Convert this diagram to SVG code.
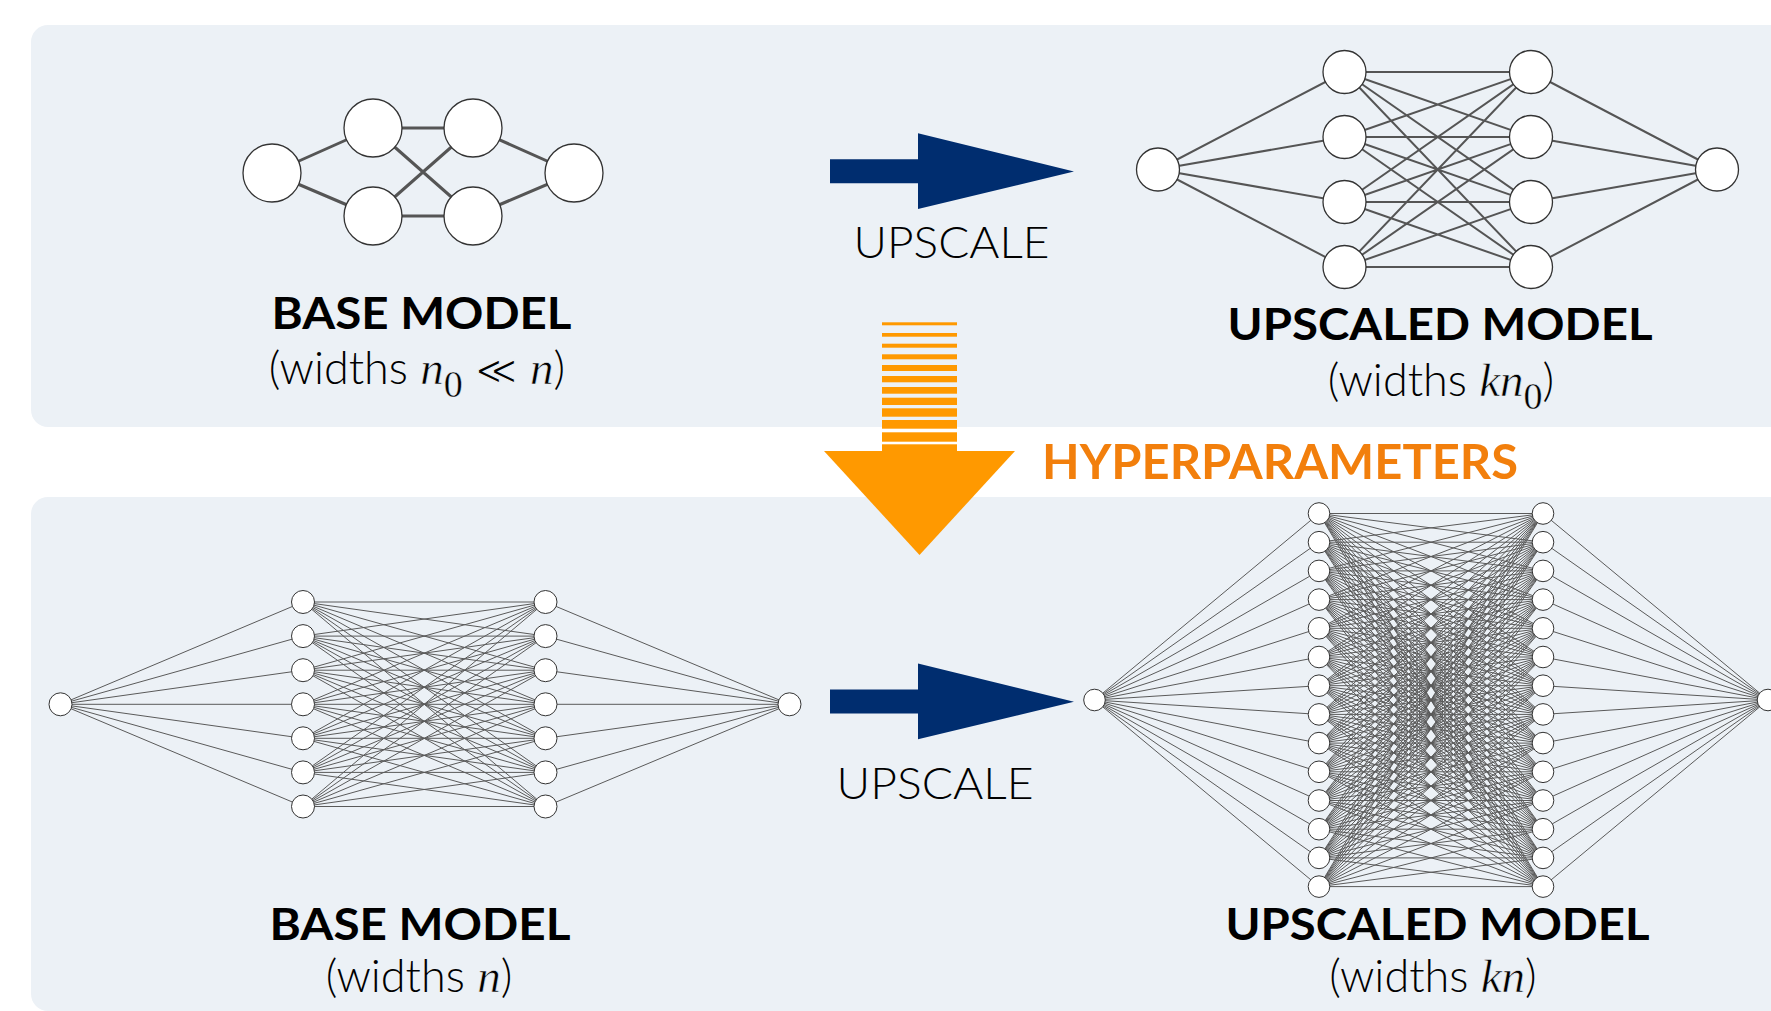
<svg xmlns="http://www.w3.org/2000/svg" width="1771" height="1011" viewBox="0 0 1771 1011">
<style>
.panel{fill:#ECF1F6}
.e3{stroke:#555;stroke-width:3;fill:none}
.e2{stroke:#555;stroke-width:2;fill:none}
.e1{stroke:#5a5a5a;stroke-width:1;fill:none}
.nd{fill:#fff;stroke:#333;stroke-width:1.3}
.nds{fill:#fff;stroke:#333;stroke-width:1}
.title{font-family:Lato,"Open Sans","Liberation Sans",sans-serif;font-weight:700;font-size:44px;fill:#000}
.up{font-family:Lato,"Open Sans","Liberation Sans",sans-serif;font-weight:300;font-size:44px;fill:#000}
.sub{font-family:Lato,"Open Sans","Liberation Sans",sans-serif;font-weight:300;font-size:45px;fill:#000}
.m{font-family:"Liberation Serif","DejaVu Serif",serif;font-style:italic;font-weight:400;font-size:47px;stroke:#ECF1F6;stroke-width:0.6px}
.z{font-family:"Liberation Serif","DejaVu Serif",serif;font-style:normal;font-weight:400;font-size:38px;stroke:#ECF1F6;stroke-width:0.4px}
.rel{font-family:"DejaVu Sans",sans-serif;font-weight:400;font-size:40px;stroke:#ECF1F6;stroke-width:1.1px}
.hyper{font-family:Lato,"Open Sans","Liberation Sans",sans-serif;font-weight:700;font-size:48px;fill:#F27F0C}
.blue{fill:#002D6F}
.orange{fill:#FF9900}
</style>

<rect class="panel" x="31" y="25" width="1770" height="402" rx="17"/>
<rect class="panel" x="31" y="497" width="1770" height="514" rx="17"/>

<g id="connectors">
  <g id="upscale-arrow-top">
    <polygon class="blue" points="830,159.3 918,159.3 918,133.3 1074,171.5 918,209 918,183.3 830,183.3"/>
    <text class="up" x="951.5" y="258.3" text-anchor="middle" textLength="196" lengthAdjust="spacingAndGlyphs">UPSCALE</text>
  </g>
  <g id="upscale-arrow-bottom">
    <polygon class="blue" points="830,689.5 918,689.5 918,663.5 1074,701.7 918,739.2 918,713.5 830,713.5"/>
    <text class="up" x="935" y="799" text-anchor="middle" textLength="197" lengthAdjust="spacingAndGlyphs">UPSCALE</text>
  </g>
  <g id="hyperparameters-arrow">
    <g class="orange">
      <rect x="882" y="322.3" width="75" height="3"/>
      <rect x="882" y="333" width="75" height="3.7"/>
      <rect x="882" y="343.7" width="75" height="4"/>
      <rect x="882" y="354.3" width="75" height="5"/>
      <rect x="882" y="365" width="75" height="6"/>
      <rect x="882" y="376" width="75" height="6.3"/>
      <rect x="882" y="387" width="75" height="6.7"/>
      <rect x="882" y="397.7" width="75" height="7.3"/>
      <rect x="882" y="408.3" width="75" height="8.4"/>
      <rect x="882" y="420" width="75" height="8.7"/>
      <rect x="882" y="432.3" width="75" height="9.4"/>
      <rect x="882" y="444.3" width="75" height="7.5"/>
      <polygon points="824,451 1015,451 919.5,555"/>
    </g>
    <text class="hyper" x="1042" y="479" textLength="476" lengthAdjust="spacingAndGlyphs">HYPERPARAMETERS</text>
  </g>
</g>

<g id="base-model-top">
  <path class="e3" d="M272 173L373 128M272 173L373 216M373 128L473 128M373 128L473 216M373 216L473 128M373 216L473 216M473 128L574 173M473 216L574 173"/>
  <circle class="nd" cx="272" cy="173" r="29"/>
  <circle class="nd" cx="373" cy="128" r="29"/>
  <circle class="nd" cx="373" cy="216" r="29"/>
  <circle class="nd" cx="473" cy="128" r="29"/>
  <circle class="nd" cx="473" cy="216" r="29"/>
  <circle class="nd" cx="574" cy="173" r="29"/>
  <text class="title" x="421.5" y="328.5" text-anchor="middle" textLength="300" lengthAdjust="spacingAndGlyphs">BASE MODEL</text>
  <text class="sub" x="417" y="384" text-anchor="middle">(widths <tspan class="m">n</tspan><tspan class="z" dy="13">0</tspan><tspan class="rel" dy="-13"> ≪ </tspan><tspan class="m">n</tspan>)</text>
</g>

<g id="upscaled-model-top">
  <path class="e2" d="M1158 169.5L1344.5 72M1158 169.5L1344.5 137M1158 169.5L1344.5 202M1158 169.5L1344.5 267
  M1344.5 72L1531 72M1344.5 72L1531 137M1344.5 72L1531 202M1344.5 72L1531 267
  M1344.5 137L1531 72M1344.5 137L1531 137M1344.5 137L1531 202M1344.5 137L1531 267
  M1344.5 202L1531 72M1344.5 202L1531 137M1344.5 202L1531 202M1344.5 202L1531 267
  M1344.5 267L1531 72M1344.5 267L1531 137M1344.5 267L1531 202M1344.5 267L1531 267
  M1531 72L1717 169.5M1531 137L1717 169.5M1531 202L1717 169.5M1531 267L1717 169.5"/>
  <circle class="nd" cx="1158" cy="169.5" r="21.5"/>
  <circle class="nd" cx="1344.5" cy="72" r="21.5"/>
  <circle class="nd" cx="1344.5" cy="137" r="21.5"/>
  <circle class="nd" cx="1344.5" cy="202" r="21.5"/>
  <circle class="nd" cx="1344.5" cy="267" r="21.5"/>
  <circle class="nd" cx="1531" cy="72" r="21.5"/>
  <circle class="nd" cx="1531" cy="137" r="21.5"/>
  <circle class="nd" cx="1531" cy="202" r="21.5"/>
  <circle class="nd" cx="1531" cy="267" r="21.5"/>
  <circle class="nd" cx="1717" cy="169.5" r="21.5"/>
  <text class="title" x="1440" y="340" text-anchor="middle" textLength="425" lengthAdjust="spacingAndGlyphs">UPSCALED MODEL</text>
  <text class="sub" x="1441" y="396" text-anchor="middle">(widths <tspan class="m">kn</tspan><tspan class="z" dy="13">0</tspan><tspan dy="-13">)</tspan></text>
</g>

<g id="base-model-bottom">
  <path class="e1" d="M60.5 704.3L303 602M60.5 704.3L303 636.1M60.5 704.3L303 670.2M60.5 704.3L303 704.3M60.5 704.3L303 738.3M60.5 704.3L303 772.4M60.5 704.3L303 806.5
  M303 602L545.5 602M303 602L545.5 636.1M303 602L545.5 670.2M303 602L545.5 704.3M303 602L545.5 738.3M303 602L545.5 772.4M303 602L545.5 806.5
  M303 636.1L545.5 602M303 636.1L545.5 636.1M303 636.1L545.5 670.2M303 636.1L545.5 704.3M303 636.1L545.5 738.3M303 636.1L545.5 772.4M303 636.1L545.5 806.5
  M303 670.2L545.5 602M303 670.2L545.5 636.1M303 670.2L545.5 670.2M303 670.2L545.5 704.3M303 670.2L545.5 738.3M303 670.2L545.5 772.4M303 670.2L545.5 806.5
  M303 704.3L545.5 602M303 704.3L545.5 636.1M303 704.3L545.5 670.2M303 704.3L545.5 704.3M303 704.3L545.5 738.3M303 704.3L545.5 772.4M303 704.3L545.5 806.5
  M303 738.3L545.5 602M303 738.3L545.5 636.1M303 738.3L545.5 670.2M303 738.3L545.5 704.3M303 738.3L545.5 738.3M303 738.3L545.5 772.4M303 738.3L545.5 806.5
  M303 772.4L545.5 602M303 772.4L545.5 636.1M303 772.4L545.5 670.2M303 772.4L545.5 704.3M303 772.4L545.5 738.3M303 772.4L545.5 772.4M303 772.4L545.5 806.5
  M303 806.5L545.5 602M303 806.5L545.5 636.1M303 806.5L545.5 670.2M303 806.5L545.5 704.3M303 806.5L545.5 738.3M303 806.5L545.5 772.4M303 806.5L545.5 806.5
  M545.5 602L789.5 704.3M545.5 636.1L789.5 704.3M545.5 670.2L789.5 704.3M545.5 704.3L789.5 704.3M545.5 738.3L789.5 704.3M545.5 772.4L789.5 704.3M545.5 806.5L789.5 704.3"/>
  <circle class="nds" cx="60.5" cy="704.3" r="11.5"/>
  <g id="bb-l1">
    <circle class="nds" cx="303" cy="602" r="11.5"/>
    <circle class="nds" cx="303" cy="636.1" r="11.5"/>
    <circle class="nds" cx="303" cy="670.2" r="11.5"/>
    <circle class="nds" cx="303" cy="704.3" r="11.5"/>
    <circle class="nds" cx="303" cy="738.3" r="11.5"/>
    <circle class="nds" cx="303" cy="772.4" r="11.5"/>
    <circle class="nds" cx="303" cy="806.5" r="11.5"/>
  </g>
  <use href="#bb-l1" x="242.5"/>
  <circle class="nds" cx="789.5" cy="704.3" r="11.5"/>
  <text class="title" x="420" y="940" text-anchor="middle" textLength="301" lengthAdjust="spacingAndGlyphs">BASE MODEL</text>
  <text class="sub" x="419" y="992" text-anchor="middle">(widths <tspan class="m">n</tspan>)</text>
</g>

<g id="upscaled-model-bottom">
  <path class="e1" d="M1094.5 700L1319 513.5M1094.5 700L1319 542.2M1094.5 700L1319 570.9M1094.5 700L1319 599.6M1094.5 700L1319 628.3M1094.5 700L1319 657M1094.5 700L1319 685.7M1094.5 700L1319 714.4M1094.5 700L1319 743.1M1094.5 700L1319 771.8M1094.5 700L1319 800.5M1094.5 700L1319 829.2M1094.5 700L1319 857.9M1094.5 700L1319 886.6
  M1543 513.5L1768 700M1543 542.2L1768 700M1543 570.9L1768 700M1543 599.6L1768 700M1543 628.3L1768 700M1543 657L1768 700M1543 685.7L1768 700M1543 714.4L1768 700M1543 743.1L1768 700M1543 771.8L1768 700M1543 800.5L1768 700M1543 829.2L1768 700M1543 857.9L1768 700M1543 886.6L1768 700"/>
  <path class="e1" d="M1319 513.5L1543 513.5M1319 513.5L1543 542.2M1319 513.5L1543 570.9M1319 513.5L1543 599.6M1319 513.5L1543 628.3M1319 513.5L1543 657M1319 513.5L1543 685.7M1319 513.5L1543 714.4M1319 513.5L1543 743.1M1319 513.5L1543 771.8M1319 513.5L1543 800.5M1319 513.5L1543 829.2M1319 513.5L1543 857.9M1319 513.5L1543 886.6
  M1319 542.2L1543 513.5M1319 542.2L1543 542.2M1319 542.2L1543 570.9M1319 542.2L1543 599.6M1319 542.2L1543 628.3M1319 542.2L1543 657M1319 542.2L1543 685.7M1319 542.2L1543 714.4M1319 542.2L1543 743.1M1319 542.2L1543 771.8M1319 542.2L1543 800.5M1319 542.2L1543 829.2M1319 542.2L1543 857.9M1319 542.2L1543 886.6
  M1319 570.9L1543 513.5M1319 570.9L1543 542.2M1319 570.9L1543 570.9M1319 570.9L1543 599.6M1319 570.9L1543 628.3M1319 570.9L1543 657M1319 570.9L1543 685.7M1319 570.9L1543 714.4M1319 570.9L1543 743.1M1319 570.9L1543 771.8M1319 570.9L1543 800.5M1319 570.9L1543 829.2M1319 570.9L1543 857.9M1319 570.9L1543 886.6
  M1319 599.6L1543 513.5M1319 599.6L1543 542.2M1319 599.6L1543 570.9M1319 599.6L1543 599.6M1319 599.6L1543 628.3M1319 599.6L1543 657M1319 599.6L1543 685.7M1319 599.6L1543 714.4M1319 599.6L1543 743.1M1319 599.6L1543 771.8M1319 599.6L1543 800.5M1319 599.6L1543 829.2M1319 599.6L1543 857.9M1319 599.6L1543 886.6
  M1319 628.3L1543 513.5M1319 628.3L1543 542.2M1319 628.3L1543 570.9M1319 628.3L1543 599.6M1319 628.3L1543 628.3M1319 628.3L1543 657M1319 628.3L1543 685.7M1319 628.3L1543 714.4M1319 628.3L1543 743.1M1319 628.3L1543 771.8M1319 628.3L1543 800.5M1319 628.3L1543 829.2M1319 628.3L1543 857.9M1319 628.3L1543 886.6
  M1319 657L1543 513.5M1319 657L1543 542.2M1319 657L1543 570.9M1319 657L1543 599.6M1319 657L1543 628.3M1319 657L1543 657M1319 657L1543 685.7M1319 657L1543 714.4M1319 657L1543 743.1M1319 657L1543 771.8M1319 657L1543 800.5M1319 657L1543 829.2M1319 657L1543 857.9M1319 657L1543 886.6
  M1319 685.7L1543 513.5M1319 685.7L1543 542.2M1319 685.7L1543 570.9M1319 685.7L1543 599.6M1319 685.7L1543 628.3M1319 685.7L1543 657M1319 685.7L1543 685.7M1319 685.7L1543 714.4M1319 685.7L1543 743.1M1319 685.7L1543 771.8M1319 685.7L1543 800.5M1319 685.7L1543 829.2M1319 685.7L1543 857.9M1319 685.7L1543 886.6
  M1319 714.4L1543 513.5M1319 714.4L1543 542.2M1319 714.4L1543 570.9M1319 714.4L1543 599.6M1319 714.4L1543 628.3M1319 714.4L1543 657M1319 714.4L1543 685.7M1319 714.4L1543 714.4M1319 714.4L1543 743.1M1319 714.4L1543 771.8M1319 714.4L1543 800.5M1319 714.4L1543 829.2M1319 714.4L1543 857.9M1319 714.4L1543 886.6
  M1319 743.1L1543 513.5M1319 743.1L1543 542.2M1319 743.1L1543 570.9M1319 743.1L1543 599.6M1319 743.1L1543 628.3M1319 743.1L1543 657M1319 743.1L1543 685.7M1319 743.1L1543 714.4M1319 743.1L1543 743.1M1319 743.1L1543 771.8M1319 743.1L1543 800.5M1319 743.1L1543 829.2M1319 743.1L1543 857.9M1319 743.1L1543 886.6
  M1319 771.8L1543 513.5M1319 771.8L1543 542.2M1319 771.8L1543 570.9M1319 771.8L1543 599.6M1319 771.8L1543 628.3M1319 771.8L1543 657M1319 771.8L1543 685.7M1319 771.8L1543 714.4M1319 771.8L1543 743.1M1319 771.8L1543 771.8M1319 771.8L1543 800.5M1319 771.8L1543 829.2M1319 771.8L1543 857.9M1319 771.8L1543 886.6
  M1319 800.5L1543 513.5M1319 800.5L1543 542.2M1319 800.5L1543 570.9M1319 800.5L1543 599.6M1319 800.5L1543 628.3M1319 800.5L1543 657M1319 800.5L1543 685.7M1319 800.5L1543 714.4M1319 800.5L1543 743.1M1319 800.5L1543 771.8M1319 800.5L1543 800.5M1319 800.5L1543 829.2M1319 800.5L1543 857.9M1319 800.5L1543 886.6
  M1319 829.2L1543 513.5M1319 829.2L1543 542.2M1319 829.2L1543 570.9M1319 829.2L1543 599.6M1319 829.2L1543 628.3M1319 829.2L1543 657M1319 829.2L1543 685.7M1319 829.2L1543 714.4M1319 829.2L1543 743.1M1319 829.2L1543 771.8M1319 829.2L1543 800.5M1319 829.2L1543 829.2M1319 829.2L1543 857.9M1319 829.2L1543 886.6
  M1319 857.9L1543 513.5M1319 857.9L1543 542.2M1319 857.9L1543 570.9M1319 857.9L1543 599.6M1319 857.9L1543 628.3M1319 857.9L1543 657M1319 857.9L1543 685.7M1319 857.9L1543 714.4M1319 857.9L1543 743.1M1319 857.9L1543 771.8M1319 857.9L1543 800.5M1319 857.9L1543 829.2M1319 857.9L1543 857.9M1319 857.9L1543 886.6
  M1319 886.6L1543 513.5M1319 886.6L1543 542.2M1319 886.6L1543 570.9M1319 886.6L1543 599.6M1319 886.6L1543 628.3M1319 886.6L1543 657M1319 886.6L1543 685.7M1319 886.6L1543 714.4M1319 886.6L1543 743.1M1319 886.6L1543 771.8M1319 886.6L1543 800.5M1319 886.6L1543 829.2M1319 886.6L1543 857.9M1319 886.6L1543 886.6"/>
  <circle class="nds" cx="1094.5" cy="700" r="10.8"/>
  <g id="ub-l1">
    <circle class="nds" cx="1319" cy="513.5" r="10.8"/>
    <circle class="nds" cx="1319" cy="542.2" r="10.8"/>
    <circle class="nds" cx="1319" cy="570.9" r="10.8"/>
    <circle class="nds" cx="1319" cy="599.6" r="10.8"/>
    <circle class="nds" cx="1319" cy="628.3" r="10.8"/>
    <circle class="nds" cx="1319" cy="657" r="10.8"/>
    <circle class="nds" cx="1319" cy="685.7" r="10.8"/>
    <circle class="nds" cx="1319" cy="714.4" r="10.8"/>
    <circle class="nds" cx="1319" cy="743.1" r="10.8"/>
    <circle class="nds" cx="1319" cy="771.8" r="10.8"/>
    <circle class="nds" cx="1319" cy="800.5" r="10.8"/>
    <circle class="nds" cx="1319" cy="829.2" r="10.8"/>
    <circle class="nds" cx="1319" cy="857.9" r="10.8"/>
    <circle class="nds" cx="1319" cy="886.6" r="10.8"/>
  </g>
  <use href="#ub-l1" x="224"/>
  <circle class="nds" cx="1768" cy="700" r="10.8"/>
  <text class="title" x="1437.5" y="940" text-anchor="middle" textLength="424" lengthAdjust="spacingAndGlyphs">UPSCALED MODEL</text>
  <text class="sub" x="1433" y="992" text-anchor="middle">(widths <tspan class="m">kn</tspan>)</text>
</g>
</svg>
